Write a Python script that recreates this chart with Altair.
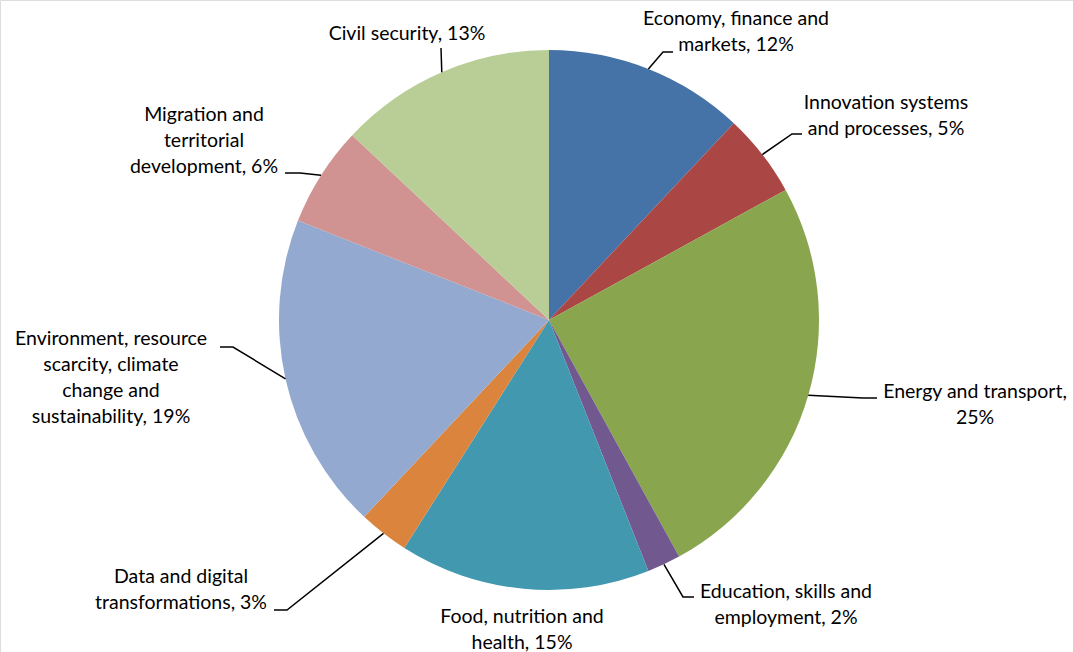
import altair as alt
import pandas as pd
import numpy as np

# ---- data ----
categories = [
    "Economy, finance and markets",
    "Innovation systems and processes",
    "Energy and transport",
    "Education, skills and employment",
    "Food, nutrition and health",
    "Data and digital transformations",
    "Environment, resource scarcity, climate change and sustainability",
    "Migration and territorial development",
    "Civil security",
]
shares = [12, 5, 25, 2, 15, 3, 19, 6, 13]
label_templates = [
    "Economy, finance and\nmarkets, {p}%",
    "Innovation systems\nand processes, {p}%",
    "Energy and transport,\n{p}%",
    "Education, skills and\nemployment, {p}%",
    "Food, nutrition and\nhealth, {p}%",
    "Data and digital\ntransformations, {p}%",
    "Environment, resource\nscarcity, climate\nchange and\nsustainability, {p}%",
    "Migration and\nterritorial\ndevelopment, {p}%",
    "Civil security, {p}%",
]
colors = ["#4572A7", "#AA4643", "#89A54E", "#71588F", "#4198AF",
          "#DB843D", "#93A9CF", "#D19392", "#B9CD96"]

# ---- layout (pixels) ----
W, H = 1073, 652
CX, CY, R = 549, 320, 270
# centre x of the text block, y of its first line
label_anchor = [(736, 19), (886, 103), (975, 392), (786, 592), (522, 617),
                (181, 577), (111, 339), (204, 115), (407, 34)]
leader_bend = [(663, 52), (792, 134), (863, 398), (683, 597), None,
               (287, 610), (233, 347), (300, 173), (441, 48)]
leader_end = [673, 802, 877, 694, None, 274, 220, 285, 441]

pie_df = pd.DataFrame({"category": categories, "share": shares,
                       "idx": list(range(len(categories)))})

# leader lines: start on the pie edge at each slice's mid angle
total = sum(shares)
cum = np.cumsum([0] + shares)
rows = []
for i, cat in enumerate(categories):
    if leader_bend[i] is None:
        continue
    mid = (cum[i] + cum[i + 1]) / 2 / total * 2 * np.pi
    sx = CX + R * np.sin(mid)
    sy = CY - R * np.cos(mid)
    bx, by = leader_bend[i]
    rows += [
        {"category": cat, "k": 0, "x": sx, "y": sy},
        {"category": cat, "k": 1, "x": bx, "y": by},
        {"category": cat, "k": 2, "x": leader_end[i], "y": by},
    ]
leader_df = pd.DataFrame(rows)

label_df = pd.DataFrame({
    "category": categories,
    "text": [t.format(p=s) for t, s in zip(label_templates, shares)],
    "x": [p[0] for p in label_anchor],
    "y": [p[1] for p in label_anchor],
})

xs = alt.Scale(domain=[0, W], nice=False, zero=False)
ys = alt.Scale(domain=[0, H], nice=False, zero=False, reverse=True)

pie = alt.Chart(pie_df).mark_arc(radius=R, stroke=None).encode(
    theta=alt.Theta("share:Q", stack=True),
    color=alt.Color("category:N", scale=alt.Scale(domain=categories, range=colors), legend=None),
    order=alt.Order("idx:Q"),
    x=alt.value(CX),
    y=alt.value(CY),
)

leaders = alt.Chart(leader_df).mark_line(color="black", strokeWidth=1.5).encode(
    x=alt.X("x:Q", scale=xs, axis=None),
    y=alt.Y("y:Q", scale=ys, axis=None),
    detail="category:N",
    order="k:Q",
)

labels = alt.Chart(label_df).mark_text(
    font="Lato", fontSize=19.5, color="black", align="center", baseline="middle",
    lineBreak="\n", lineHeight=26,
).encode(
    x=alt.X("x:Q", scale=xs, axis=None),
    y=alt.Y("y:Q", scale=ys, axis=None),
    text="text:N",
)

chart = alt.layer(pie, leaders, labels).properties(
    width=W, height=H, autosize=alt.AutoSizeParams(type="none"), padding=0,
).configure_view(stroke=None).configure(background="white")

chart.save("out.html", embed_options={"renderer": "svg", "actions": False})
